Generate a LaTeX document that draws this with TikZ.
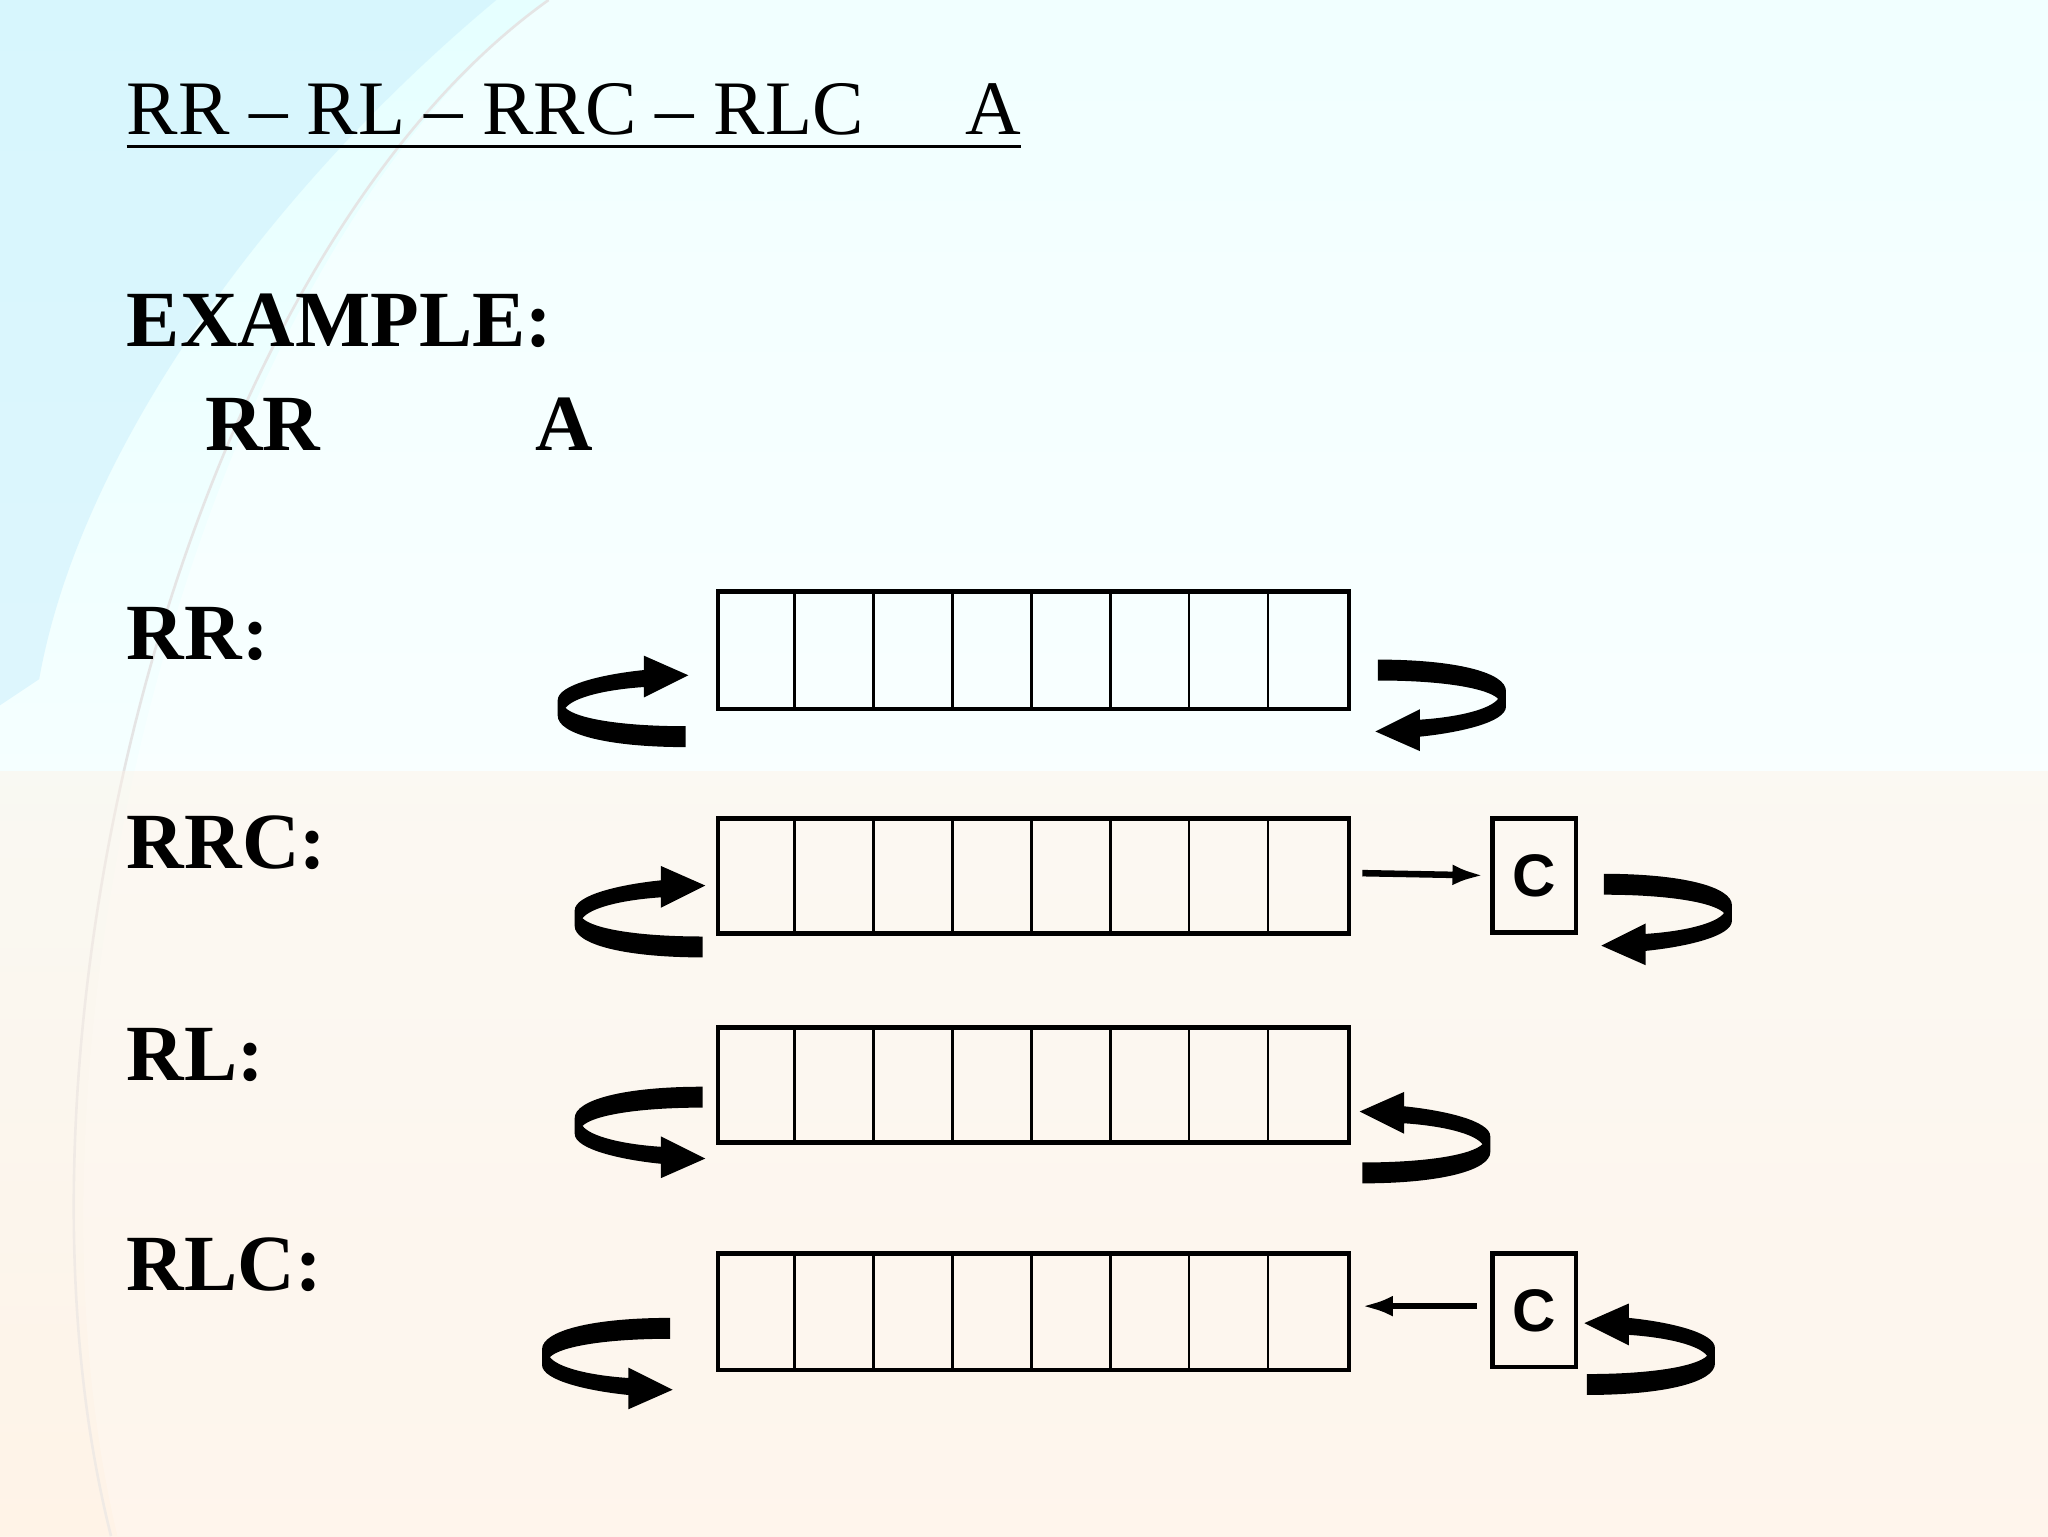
\documentclass[tikz,border=0pt]{standalone}
\usepackage{fontspec}
\setmainfont{Liberation Serif}
\setsansfont{Liberation Sans}
\begin{document}
\begin{tikzpicture}[x=1pt,y=-1pt,
  reg/.style={draw=black,line width=3.5pt},
  cell/.style={draw=black,line width=2pt},
  lbl/.style={anchor=base west,inner sep=0pt,font=\fontsize{61}{63}\selectfont\bfseries},
  thin arrow/.style={line width=5pt,-{Latex[length=24pt,width=16pt]}}]
\usetikzlibrary{arrows.meta}
\useasboundingbox (0,0) rectangle (1568,1176);
% background
\shade[top color=white!90!cyan, bottom color=white!88!orange!70!white, middle color=white!96!cyan] (0,0) rectangle (1568,1176);
\fill[cyan!20!white,opacity=0.55] (0,0) -- (380,0) .. controls (200,150) and (60,350) .. (30,520) -- (0,540) -- cycle;
\fill[white,opacity=0.45] (90,1176) .. controls (0,800) and (150,200) .. (420,0) -- (1568,0) -- (1568,1176) -- cycle;
\draw[white!80!gray,line width=2pt] (85,1176) .. controls (-10,800) and (140,200) .. (420,0);
\fill[orange!10!white,opacity=0.45] (0,590) rectangle (1568,1176);
% texts
\node[anchor=base west,inner sep=0pt,font=\fontsize{59}{60}\selectfont] (title) at (97,103) {RR -- RL -- RRC -- RLC\hspace{78pt}A};
\draw[line width=2.5pt] (97,112) -- (782,112);
\node[lbl] (ex) at (97,265) {EXAMPLE:};
\node[lbl] (rr1) at (157,345) {RR};
\node[lbl] (a1) at (410,345) {A};
\node[lbl] (l1) at (97,505) {RR:};
\node[lbl] (l2) at (97,665) {RRC:};
\node[lbl] (l3) at (97,827) {RL:};
\node[lbl] (l4) at (97,988) {RLC:};
% registers
\foreach \y/\h/\n in {451/90/r1,625/88/r2,785/88/r3,958/89/r4}{
  \foreach \i in {1,...,7}{\draw[cell] ({548+\i*60.4},\y) -- ++(0,\h);}
  \node[reg,minimum width=483pt,minimum height=\h pt,inner sep=0pt,anchor=north west] (\n) at (548,\y) {};
}
\node[reg,minimum width=64pt,minimum height=87pt,anchor=north west,inner sep=0pt,font=\fontsize{46}{46}\selectfont\sffamily\bfseries] (c1) at (1141,625) {C};
\node[reg,minimum width=64pt,minimum height=87pt,anchor=north west,inner sep=0pt,font=\fontsize{46}{46}\selectfont\sffamily\bfseries] (c2) at (1141,958) {C};
\coordinate (s1) at (1043,668.5);
\coordinate (s2) at (1131,1000);
\draw[thin arrow] (s1) -- ([xshift=-5pt]c1.west);
\draw[thin arrow] (s2) -- ([xshift=8pt]r4.east |- s2);
% curl
\def\curl{\fill (0,32) .. controls (-60,32) and (-98,22) .. (-98,8) -- (-98,-4) .. controls (-98,-16) and (-62,-24) .. (-32,-27) -- (-32,-38) -- (2,-23) -- (-32,-6) -- (-32,-14) .. controls (-62,-12) and (-86,-6) .. (-92,2) .. controls (-84,10) and (-50,16) .. (0,16) -- cycle;}
\begin{scope}[shift={(525,540)}]\curl\end{scope}
\begin{scope}[shift={(1055,537)},rotate=180]\curl\end{scope}
\begin{scope}[shift={(538,701)}]\curl\end{scope}
\begin{scope}[shift={(1228,701)},rotate=180]\curl\end{scope}
\begin{scope}[shift={(538,864)},yscale=-1]\curl\end{scope}
\begin{scope}[shift={(1043,874)},xscale=-1]\curl\end{scope}
\begin{scope}[shift={(513,1041)},yscale=-1]\curl\end{scope}
\begin{scope}[shift={(1215,1036)},xscale=-1]\curl\end{scope}
\end{tikzpicture}
\end{document}
